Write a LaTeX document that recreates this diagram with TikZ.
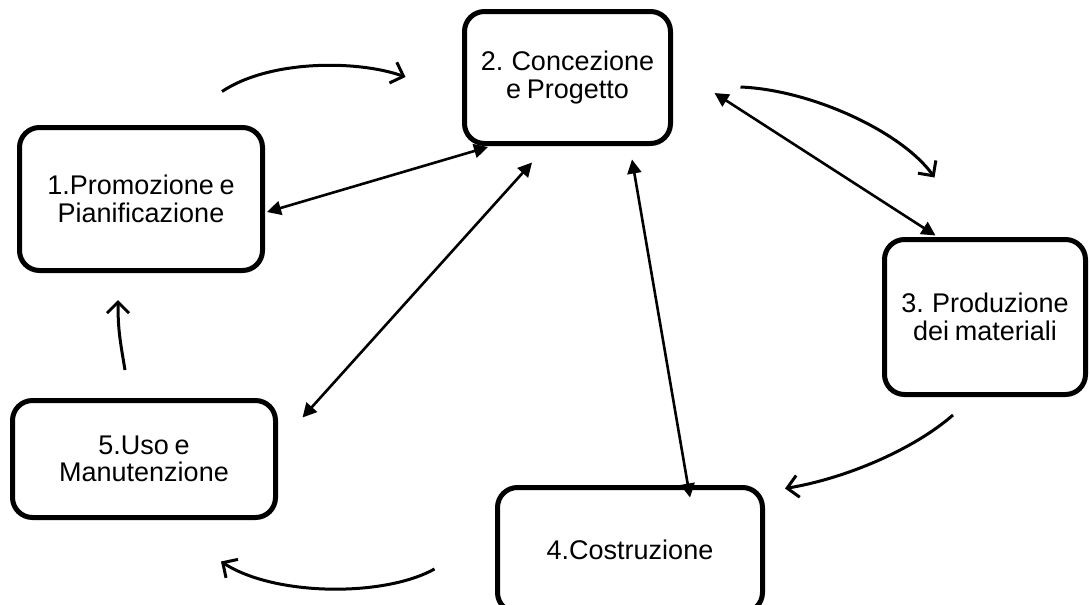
\documentclass[tikz,border=0pt]{standalone}
\usepackage{fontspec}
\setmainfont[WordSpace=0.75]{Liberation Sans}
\usetikzlibrary{arrows.meta,calc}
\begin{document}
\begin{tikzpicture}[x=1pt,y=-1pt,
  phase/.style={draw,line width=5pt,rounded corners=20pt,align=center,
    font=\fontsize{27}{27.5}\selectfont,inner sep=0pt},
  link/.style={line width=2.6pt,{Triangle[length=14pt,width=14pt]}-{Triangle[length=14pt,width=14pt]}},
  flow/.style={line width=3pt,-{Straight Barb[length=11pt,width=22pt,line width=3pt]}}]
\useasboundingbox (0,0) rectangle (1090,605);
\clip (0,0) rectangle (1090,605);
% the five phases
\node[phase,minimum width=243pt,minimum height=143pt] (n1) at (141,199) {1.Promozione e\\Pianificazione};
\node[phase,minimum width=206pt,minimum height=132pt] (n2) at (567.5,77.5) {2. Concezione\\e Progetto};
\node[phase,minimum width=201pt,minimum height=155pt] (n3) at (985,317) {3. Produzione\\dei materiali};
\node[phase,minimum width=265pt,minimum height=125pt] (n4) at (630,550) {4.Costruzione};
\node[phase,minimum width=263pt,minimum height=117pt] (n5) at (144,459) {5.Uso e\\Manutenzione};
% two-way links with the design phase
\draw[link] ([shift={(2,13)}]n1.east) -- ([shift={(26,1)}]n2.south west);
\draw[link] ([shift={(24.5,19.5)}]n5.north east) -- ([shift={(-35.5,16.5)}]n2.south);
\draw[link] ([shift={(64.5,13.5)}]n2.south) -- ([shift={(60,12.5)}]n4.north);
\draw[link] ([shift={(41.5,15.5)}]n2.east) -- ([shift={(53.5,-1.5)}]n3.north west);
% the cycle
\draw[flow] ([shift={(81,-33.5)}]n1.north) .. controls +(48,-32) and +(-48,-17) .. ([shift={(-56.5,-0.5)}]n2.west);
\draw[flow] ([shift={(67.5,9.5)}]n2.east) .. controls +(72,3) and +(-32,-45) .. ([shift={(52.5,-59.5)}]n3.north west);
\draw[flow] ([shift={(-32,18)}]n3.south) .. controls +(-40,35) and +(60,-10) .. ([shift={(20,3.5)}]n4.north east);
\draw[flow] ([shift={(-60.5,19)}]n4.west) .. controls +(-50,28) and +(54,35) .. ([shift={(77,41.5)}]n5.south);
\draw[flow] ([shift={(-19,-28)}]n5.north) .. controls +(-5,-30) and +(0,30) .. ([shift={(-23,27)}]n1.south);
\end{tikzpicture}
\end{document}
